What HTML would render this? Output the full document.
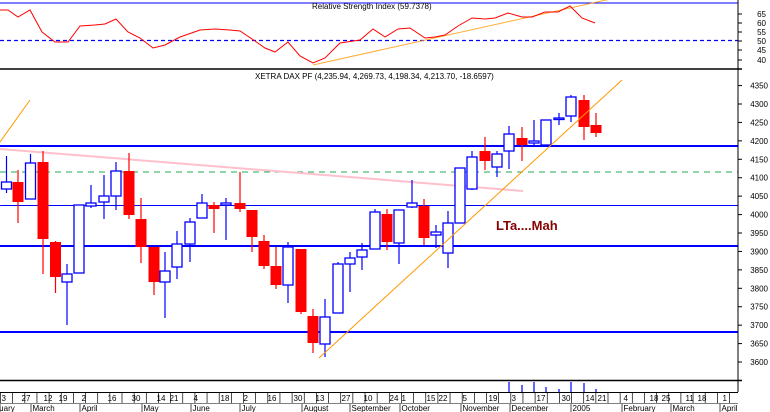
<!DOCTYPE html>
<html><head><meta charset="utf-8"><style>
html,body{margin:0;padding:0;background:#fff;width:770px;height:412px;overflow:hidden}
svg{display:block;font-family:"Liberation Sans",sans-serif}
</style></head><body>
<svg id="s" width="770" height="412" viewBox="0 0 770 412" xmlns="http://www.w3.org/2000/svg">
<rect width="770" height="412" fill="#fff"/>
<!-- RSI panel -->
<line x1="0" y1="3" x2="738" y2="3" stroke="#00f" stroke-width="1"/>
<text x="312" y="9" font-size="8" fill="#000">Relative Strength Index (59.7378)</text>
<line x1="0" y1="40.5" x2="738" y2="40.5" stroke="#00f" stroke-width="1.2" stroke-dasharray="4,3"/>
<polyline fill="none" stroke="#f90" stroke-width="1" opacity="0.8" points="313,65 615,-2"/>
<polyline id="rsi" fill="none" stroke="#f00" stroke-width="1" points="0,10 8,10 18,17 30,10 42,32 55,42 68,42 80,26 95,25 105,24 116,19 128,32 140,38 153,48 165,45 180,37 200,30 215,29 230,30 240,31 255,41 265,48 275,52 288,42 300,56 313,63 325,58 340,43 360,40 373,29 385,37 398,29 410,28 425,38 435,37 445,35 458,26 472,18 485,19 495,18 508,13 522,17 532,17 545,12 558,12 570,6 582,18 595,23"/>
<line x1="0" y1="69" x2="742" y2="69" stroke="#000" stroke-width="1.5"/>
<text x="255" y="79" font-size="8" fill="#000">XETRA DAX PF (4,235.94, 4,269.73, 4,198.34, 4,213.70, -18.6597)</text>
<!-- horizontals -->
<line x1="0" y1="146" x2="738" y2="146" stroke="#00f" stroke-width="2"/>
<line x1="0" y1="172" x2="738" y2="172" stroke="#2a5" stroke-width="1" stroke-dasharray="6,5"/>
<line x1="0" y1="205.5" x2="738" y2="205.5" stroke="#00f" stroke-width="1"/>
<line x1="0" y1="246" x2="738" y2="246" stroke="#00f" stroke-width="2"/>
<line x1="0" y1="332" x2="738" y2="332" stroke="#00f" stroke-width="2"/>
<line x1="0" y1="149" x2="523" y2="191" stroke="#ffc0cb" stroke-width="2"/>
<g id="c"></g>
<line x1="319" y1="358" x2="622" y2="80" stroke="#f90" stroke-width="1"/>
<line x1="0" y1="142" x2="30" y2="100" stroke="#f90" stroke-width="1"/>
<text x="496" y="230" font-size="13" font-weight="bold" fill="#800">LTa....Mah</text>
<!-- bottom -->
<line x1="0" y1="380.5" x2="742" y2="380.5" stroke="#000" stroke-width="1.5"/>
<g stroke="#00f" stroke-width="1.2">
<line x1="509" y1="382" x2="509" y2="392"/><line x1="522" y1="385" x2="522" y2="392"/>
<line x1="534" y1="382" x2="534" y2="392"/><line x1="546" y1="387" x2="546" y2="392"/>
<line x1="559" y1="389" x2="559" y2="392"/><line x1="571" y1="382" x2="571" y2="392"/>
<line x1="584" y1="383" x2="584" y2="392"/><line x1="596" y1="389" x2="596" y2="392"/>
</g>
<line x1="738" y1="0" x2="738" y2="392" stroke="#000" stroke-width="1"/>
<line x1="0" y1="392.5" x2="738" y2="392.5" stroke="#000" stroke-width="1"/>
<line x1="0" y1="403.5" x2="738" y2="403.5" stroke="#000" stroke-width="0.6"/>
<g id="ax" font-size="8" fill="#000"></g>
</svg>
<script>
var ns="http://www.w3.org/2000/svg";
function el(p,t,a,txt){var e=document.createElementNS(ns,t);for(var k in a)e.setAttribute(k,a[k]);if(txt!=null)e.textContent=txt;p.appendChild(e);return e;}
var C=[[6.5,156,193,189,182,'b'],[18,170,223,182,202,'r'],[30.5,154,199,199,163,'b'],[43,151,274,162,239,'r'],[55.5,241,293,242,277,'r'],[67,264,325,282,274,'b'],[79,205,273,273,205,'b'],[91,185,208,206,203,'b'],[104,175,219,202,196,'b'],[116,162,210,196,171,'b'],[129,153,219,171,215,'r'],[141,198,263,219,247,'r'],[154,247,295,247,282,'r'],[165,252,318,282,271,'b'],[177,231,279,267,244,'b'],[190,218,262,244,222,'b'],[202,194,218,218,203,'b'],[214,202,233,205,209,'r'],[226,198,240,205,203,'b'],[240,172,212,203,209,'r'],[252,210,252,210,237,'r'],[264,235,269,241,266,'r'],[276,247,289,266,285,'r'],[288,242,303,285,247,'b'],[301,249,314,249,312,'r'],[313,309,353,316,343,'r'],[325,299,357,344,317,'b'],[338,262,313,313,264,'b'],[350,252,292,264,258,'b'],[362,243,270,257,250,'b'],[375,209,249,249,212,'b'],[387,209,250,214,242,'r'],[399,210,264,243,210,'b'],[412,180,208,207,203,'b'],[424,199,245,206,238,'r'],[436,225,248,235,232,'b'],[448,211,268,253,223,'b'],[460,168,223,223,168,'b'],[472,151,190,189,157,'b'],[485,137,170,151,161,'r'],[497,151,177,167,154,'b'],[509,126,169,151,134,'b'],[522,127,161,138,145,'r'],[534,120,145,143,141,'b'],[546,120,145,145,120,'b'],[559,113,125,118,118,'b'],[571,95,122,116,97,'b'],[584,95,140,100,127,'r'],[596,113,137,125,133,'r']];
var g=document.getElementById('c');
C.forEach(function(c){var x=c[0],col=c[5]=='b'?'#00f':'#f00';
var top=Math.min(c[3],c[4]),bot=Math.max(c[3],c[4]),h=Math.max(bot-top,1.5);
el(g,'line',{x1:x,y1:c[1],x2:x,y2:c[2],stroke:col,'stroke-width':1.2});
if(c[5]=='b')el(g,'rect',{x:x-5,y:top,width:10,height:h,fill:'#fff',stroke:col,'stroke-width':1.3});
else el(g,'rect',{x:x-5.5,y:top,width:11,height:h,fill:col});});
var ax=document.getElementById('ax');
[[65,14],[60,23],[55,32],[50,41],[45,50],[40,60]].forEach(function(r){el(ax,'text',{x:766,y:r[1]+3,'text-anchor':'end'},r[0]);el(ax,'line',{x1:738,y1:r[1],x2:742,y2:r[1],stroke:'#000'});});
for(var p=3600;p<=4350;p+=50){var y=104+(4300-p)*0.3686;el(ax,'text',{x:768,y:y+3,'text-anchor':'end'},p);el(ax,'line',{x1:738,y1:y,x2:742,y2:y,stroke:'#000'});}
for(var x=0.5;x<738;x+=12.15){el(ax,'line',{x1:x,y1:393,x2:x,y2:403,stroke:'#000','stroke-width':0.7});}
[[0,'3'],[20,'27'],[42,'12'],[57,'19'],[80,'2'],[106,'16'],[130,'30'],[155,'14'],[168,'21'],[192,'4'],[219,'18'],[242,'2'],[266,'16'],[292,'30'],[314,'13'],[340,'27'],[362,'10'],[388,'24'],[400,'1'],[425,'15'],[437,'22'],[461,'5'],[487,'19'],[510,'3'],[535,'17'],[560,'30'],[584,'14'],[596,'21'],[622,'4'],[648,'18'],[660,'25'],[684,'11'],[696,'18'],[721,'1']].forEach(function(d){el(ax,'text',{x:d[0]+1.5,y:401},d[1]);});
[[-5,'ruary'],[31,'March'],[80,'April'],[142,'May'],[191,'June'],[240,'July'],[302,'August'],[350,'September'],[400,'October'],[461,'November'],[510,'December'],[571,'2005'],[622,'February'],[671,'March'],[720,'April']].forEach(function(d){el(ax,'line',{x1:d[0]<0?0:d[0],y1:404,x2:d[0]<0?0:d[0],y2:412,stroke:'#000','stroke-width':0.7});el(ax,'text',{x:d[0]+1.5,y:411},d[1]);});
</script>
</body></html>
